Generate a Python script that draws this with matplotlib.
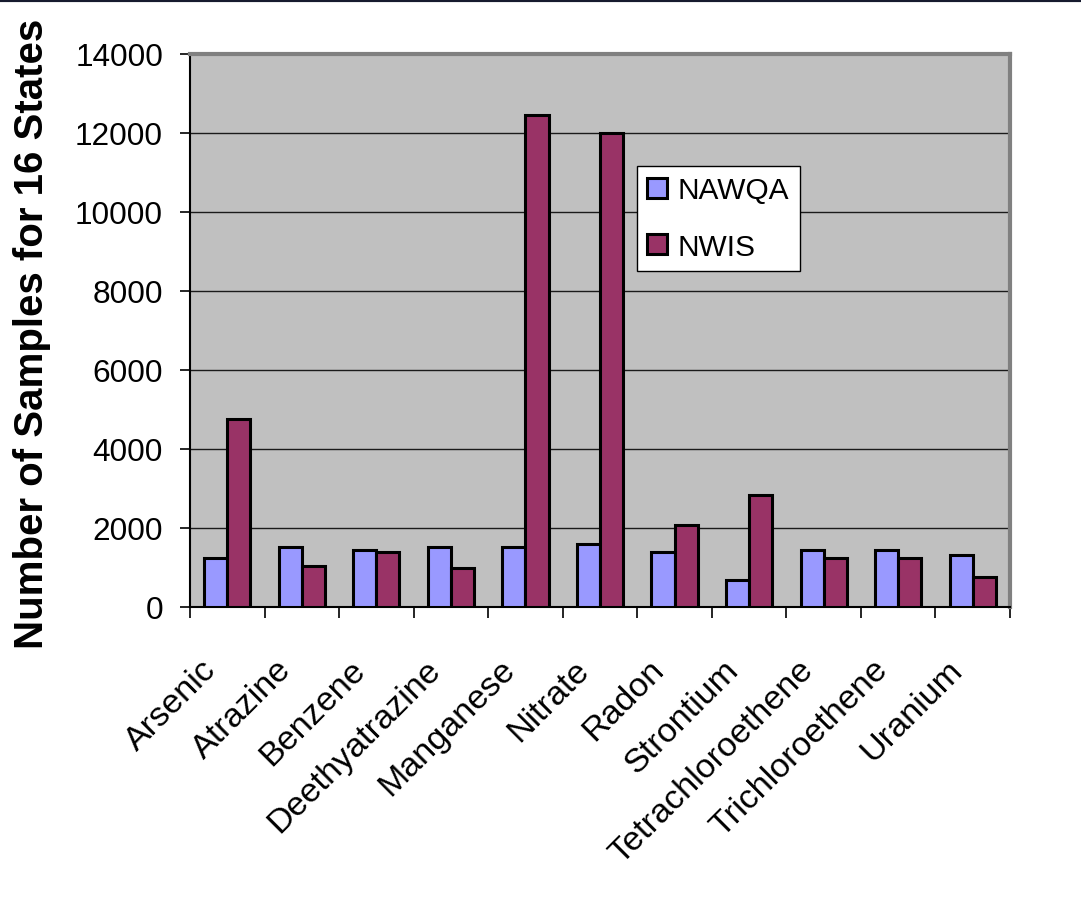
import matplotlib
matplotlib.use("Agg")
import matplotlib.pyplot as plt
import matplotlib.transforms as mtransforms
import numpy as np
from matplotlib.lines import Line2D

categories = ["Arsenic", "Atrazine", "Benzene", "Deethyatrazine", "Manganese",
              "Nitrate", "Radon", "Strontium", "Tetrachloroethene",
              "Trichloroethene", "Uranium"]
nawqa = [1240, 1520, 1450, 1520, 1520, 1600, 1390, 690, 1450, 1450, 1320]
nwis = [4770, 1040, 1390, 980, 12450, 12000, 2070, 2830, 1240, 1240, 760]
series_names = ["NAWQA", "NWIS"]
yticks = [0, 2000, 4000, 6000, 8000, 10000, 12000, 14000]

plt.rcParams['font.family'] = ['Liberation Sans', 'DejaVu Sans']

fig = plt.figure(figsize=(10.81, 9.2), dpi=100)
ax = fig.add_axes([190/1081, 1-608/920, 820/1081, 553/920])
ax.set_facecolor('#C0C0C0')

x = np.arange(len(categories))
w = 0.31
ax.bar(x - w/2, nawqa, w, color='#9999FF', edgecolor='black', linewidth=2.2,
       label=series_names[0], zorder=3)
ax.bar(x + w/2, nwis, w, color='#993366', edgecolor='black', linewidth=2.2,
       label=series_names[1], zorder=3)

ax.set_xlim(-0.5, len(categories) - 0.5)
ax.set_ylim(0, 14000)
ax.set_yticks(yticks)
ax.set_yticklabels([str(v) for v in yticks], fontsize=22.8)
ax.yaxis.grid(True, color='#1a1a1a', linewidth=1.0, zorder=1)
ax.set_axisbelow(True)

ax.set_xticks(np.arange(len(categories) + 1) - 0.5)
ax.set_xticklabels([])
ax.tick_params(axis='x', which='major', direction='out', length=8, width=1.2, color='black')
ax.tick_params(axis='y', direction='out', length=7.2, width=1.2, pad=12.2)

# category labels, rotated 45 degrees
offset = mtransforms.ScaledTranslation(-0.265, -0.465, fig.dpi_scale_trans)
trans = ax.get_xaxis_transform() + offset
for xi, name in zip(x, categories):
    ax.text(xi, 0, name, transform=trans, rotation=45, rotation_mode='anchor',
            ha='right', va='top', fontsize=24.6, clip_on=False)

for s in ['left', 'bottom']:
    ax.spines[s].set_color('black')
    ax.spines[s].set_linewidth(1.5)
for s in ['top', 'right']:
    ax.spines[s].set_color('#808080')
    ax.spines[s].set_linewidth(3)

ax.set_ylabel("Number of Samples for 16 States", fontsize=29, fontweight='bold')
ax.yaxis.set_label_coords(-0.169, 0.496)

leg = ax.legend(loc='upper left', bbox_to_anchor=((637-190)/820, (608-167)/553),
                fontsize=21.5, frameon=True, fancybox=False, framealpha=1,
                handlelength=0.66, handleheight=0.66, handletextpad=0.35,
                labelspacing=0.95, borderpad=0.35, borderaxespad=0)
leg.get_frame().set_edgecolor('black')
leg.get_frame().set_linewidth(1.0)
leg.get_frame().set_facecolor('white')
leg.set_zorder(5)

fig.add_artist(Line2D([0, 1], [0.9985, 0.9985], transform=fig.transFigure,
                      color='#161a2e', linewidth=3))

fig.savefig("out.png", dpi=100)
